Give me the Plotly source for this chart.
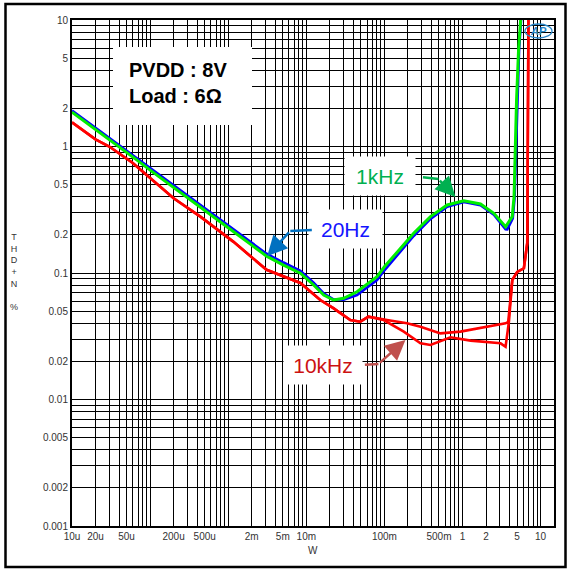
import math
import plotly.graph_objects as go

# ---- THD+N (%) versus output power (W), PVDD = 8 V, 6 ohm load ----

# 1 kHz
p_1k = [1e-5, 2e-5, 3e-5, 5e-5, 7e-5, 1e-4, 2e-4, 5e-4, 1e-3, 2e-3, 3.1e-3, 5.1e-3,
        8.4e-3, 0.0124, 0.0167, 0.0222, 0.0301, 0.0446, 0.0805, 0.1, 0.146, 0.237,
        0.389, 0.637, 1.04, 1.70, 2.52, 3.56, 4.33, 4.57, 4.92, 5.22, 5.55, 5.7]
thd_1k = [1.87, 1.37, 1.13, 0.90, 0.77, 0.65, 0.476, 0.313, 0.228, 0.166, 0.136, 0.1156,
          0.0996, 0.0804, 0.067, 0.0612, 0.0631, 0.0711, 0.0935, 0.112, 0.147, 0.206,
          0.279, 0.345, 0.373, 0.351, 0.296, 0.232, 0.279, 0.40, 2.33, 5.8, 10.0, 12.0]

# 20 Hz
p_20 = [1e-5, 2e-5, 3e-5, 5e-5, 7e-5, 1e-4, 2e-4, 5e-4, 1e-3, 2e-3, 3.1e-3, 5.1e-3,
        8.4e-3, 0.0124, 0.0167, 0.0222, 0.0301, 0.0446, 0.0805, 0.1, 0.146, 0.237,
        0.389, 0.637, 1.04, 1.70, 2.52, 3.56, 3.75, 4.4, 4.65, 5.0, 5.3, 5.62, 5.77]
thd_20 = [1.92, 1.40, 1.16, 0.92, 0.79, 0.67, 0.49, 0.322, 0.236, 0.173, 0.142, 0.121,
          0.104, 0.084, 0.069, 0.062, 0.0615, 0.067, 0.088, 0.105, 0.139, 0.196,
          0.268, 0.334, 0.364, 0.344, 0.289, 0.222, 0.221, 0.27, 0.40, 2.33, 5.8, 10.0, 12.0]

# 10 kHz, channel A
p_10k_a = [1e-5, 2e-5, 3e-5, 6e-5, 2e-4, 4.4e-4, 1.16e-3, 3.1e-3, 8.4e-3, 0.0151, 0.0222,
           0.0273, 0.0366, 0.0492, 0.0624, 0.108, 0.195, 0.290, 0.523, 0.942, 2.08, 3.56,
           3.85, 4.12, 4.34, 5.02, 6.11, 6.75, 6.8, 6.95, 7.0]
thd_10k_a = [1.55, 1.14, 1.0, 0.74, 0.39, 0.279, 0.177, 0.106, 0.0834, 0.0612, 0.0528,
             0.0481, 0.0425, 0.0412, 0.0452, 0.0425, 0.040, 0.0376, 0.0333, 0.0344, 0.0376, 0.040,
             0.041, 0.0612, 0.088, 0.102, 0.109, 0.173, 0.543, 10.0, 12.0]

# 10 kHz, channel B
p_10k_b = [1e-5, 2e-5, 3e-5, 6e-5, 2e-4, 4.4e-4, 1.16e-3, 3.1e-3, 8.4e-3, 0.0151, 0.0222,
           0.0273, 0.0366, 0.0492, 0.0626, 0.098, 0.177, 0.290, 0.389, 0.702, 1.27, 3.07,
           3.56, 3.93, 4.12, 4.34, 5.02, 6.11, 6.75, 6.8, 6.95, 7.0]
thd_10k_b = [1.55, 1.14, 1.0, 0.74, 0.39, 0.279, 0.177, 0.106, 0.0834, 0.0612, 0.0528,
             0.0481, 0.0425, 0.0412, 0.0452, 0.0425, 0.0344, 0.0278, 0.027, 0.031, 0.0292, 0.0278,
             0.0261, 0.0412, 0.0612, 0.088, 0.102, 0.109, 0.173, 0.543, 10.0, 12.0]

# Axis tick labels (empty entries only carry a grid line)
x_labels = {1e-5: "10u", 2e-5: "20u", 5e-5: "50u", 2e-4: "200u", 5e-4: "500u",
            2e-3: "2m", 5e-3: "5m", 1e-2: "10m", 1e-1: "100m", 5e-1: "500m",
            1: "1", 2: "2", 5: "5", 10: "10"}
y_labels = {1e-3: "0.001", 2e-3: "0.002", 5e-3: "0.005", 1e-2: "0.01", 2e-2: "0.02",
            5e-2: "0.05", 1e-1: "0.1", 2e-1: "0.2", 5e-1: "0.5", 1: "1", 2: "2",
            5: "5", 10: "10"}

W, H = 571, 571
L, R, T, B = 72, 17, 20, 45
PW, PH = W - L - R, H - T - B


def paper_x(px):
    return (px - L) / PW


def paper_y(py):
    return (H - B - py) / PH


def grid_values(e_lo, e_hi):
    vals, texts = [], []
    for e in range(e_lo, e_hi + 1):
        for d in range(1, 10):
            if e == e_hi and d > 1:
                break
            vals.append(round(d * 10.0 ** e, 12))
            texts.append("")
    return vals, texts


def labelled(e_lo, e_hi, labels):
    vals, texts = grid_values(e_lo, e_hi)
    for i, v in enumerate(vals):
        for k, t in labels.items():
            if abs(v - k) <= 1e-9 * max(abs(k), 1e-12):
                texts[i] = t
    return vals, texts


xt_vals, xt_text = labelled(-5, 1, x_labels)
yt_vals, yt_text = labelled(-3, 1, y_labels)

fig = go.Figure()
fig.add_trace(go.Scatter(x=p_10k_b, y=thd_10k_b, mode="lines",
                         line=dict(color="#ff0000", width=2.6), name="10kHz B"))
fig.add_trace(go.Scatter(x=p_10k_a, y=thd_10k_a, mode="lines",
                         line=dict(color="#ff0000", width=2.6), name="10kHz A"))
fig.add_trace(go.Scatter(x=p_20, y=thd_20, mode="lines",
                         line=dict(color="#0000ff", width=2.6), name="20Hz"))
fig.add_trace(go.Scatter(x=p_1k, y=thd_1k, mode="lines",
                         line=dict(color="#00ee00", width=3), name="1kHz"))

tick_font = dict(family="Liberation Sans, Arial, sans-serif", size=10, color="#333333")
grid_col = "#000000"

fig.update_xaxes(type="log", range=[-5, -5 + PW / 78.1], tickmode="array",
                 tickvals=xt_vals, ticktext=xt_text, showgrid=True, gridcolor=grid_col,
                 gridwidth=1, showline=True, linecolor="black", linewidth=2, mirror=True,
                 ticks="", tickfont=tick_font, zeroline=False, automargin=False)
fig.update_yaxes(type="log", range=[-3, 1], tickmode="array",
                 tickvals=yt_vals, ticktext=yt_text, showgrid=True, gridcolor=grid_col,
                 gridwidth=1, showline=True, linecolor="black", linewidth=2, mirror=True,
                 ticks="", tickfont=tick_font, zeroline=False, automargin=False)

shapes = [
    # condition box
    dict(type="rect", xref="paper", yref="paper", x0=paper_x(113), x1=paper_x(252),
         y0=paper_y(125), y1=paper_y(47), fillcolor="white", line=dict(width=0),
         layer="above"),
    # outer frame
    dict(type="rect", xref="paper", yref="paper", x0=paper_x(5.5), x1=paper_x(565.5),
         y0=paper_y(567), y1=paper_y(4), line=dict(color="black", width=2.5),
         fillcolor="rgba(0,0,0,0)", layer="above"),
    # logo ring
    dict(type="circle", xref="paper", yref="paper", x0=paper_x(525), x1=paper_x(552),
         y0=paper_y(38), y1=paper_y(24), line=dict(color="#2a86c8", width=1.3),
         layer="above"),
]

lbl_font = "Liberation Sans, Arial, sans-serif"


def text_note(text, px, py, size, color, **extra):
    note = dict(text=text, x=paper_x(px), y=paper_y(py), xref="paper", yref="paper",
                xanchor="center", yanchor="middle", showarrow=False,
                font=dict(family=lbl_font, size=size, color=color))
    note.update(extra)
    return note


annotations = [
    text_note("<b>PVDD : 8V</b>", 127, 70, 20, "black", xanchor="left"),
    text_note("<b>Load : 6Ω</b>", 127, 96, 20, "black", xanchor="left"),
    text_note("W", 313, 550, 10, "#333333"),
    text_note("T<br>H<br>D<br>+<br>N<br> <br>%", 14, 272, 9, "#333333"),
    text_note("<b><i>AP</i></b>", 538, 31, 11, "#2a86c8"),
    # curve labels
    text_note("1kHz", 380, 176, 21, "#00b050",
              width=68, height=36, bgcolor="white", borderpad=1),
    text_note("20Hz", 345, 229, 21, "#1414ff",
              width=71, height=36, bgcolor="white", borderpad=1),
    text_note("10kHz", 323, 365, 21, "#cc1111",
              width=76, height=36, bgcolor="white", borderpad=1),
]


def bent_arrow(tail, bend, tip, color):
    lg = math.log10
    return [
        dict(text="", x=lg(bend[0]), y=lg(bend[1]), ax=lg(tail[0]), ay=lg(tail[1]),
             xref="x", yref="y", axref="x", ayref="y", showarrow=True, arrowhead=0,
             arrowwidth=2.5, arrowcolor=color),
        dict(text="", x=lg(tip[0]), y=lg(tip[1]), ax=lg(bend[0]), ay=lg(bend[1]),
             xref="x", yref="y", axref="x", ayref="y", showarrow=True, arrowhead=2,
             arrowsize=1.6, arrowwidth=2.5, arrowcolor=color),
    ]


annotations += bent_arrow((0.0123, 0.219), (6.24e-3, 0.215), (3.16e-3, 0.136), "#0070c0")
annotations += bent_arrow((0.298, 0.574), (0.492, 0.553), (0.813, 0.399), "#00b050")
annotations += bent_arrow((0.0538, 0.01875), (0.0838, 0.0191), (0.186, 0.0295), "#c0504d")

fig.update_layout(width=W, height=H, margin=dict(l=L, r=R, t=T, b=B, pad=0),
                  paper_bgcolor="white", plot_bgcolor="white", showlegend=False,
                  shapes=shapes, annotations=annotations)

fig.write_html("out.html")
